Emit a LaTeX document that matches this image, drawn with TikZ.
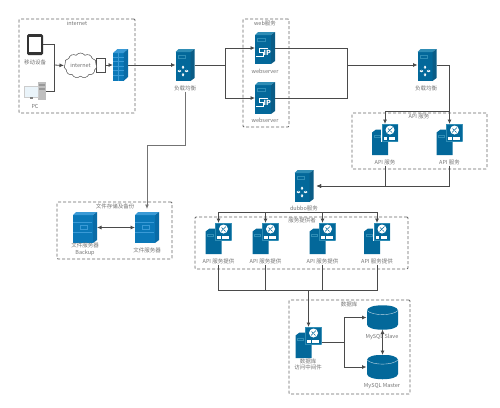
\documentclass[tikz,border=0pt]{standalone}
\usepackage{fontspec}
\setmainfont{Noto Sans CJK SC}
\usepackage{xcolor}
\usetikzlibrary{positioning,arrows.meta,shapes.symbols}
\definecolor{srvfront}{HTML}{03689A}
\definecolor{srvtop}{HTML}{2F8DB5}
\definecolor{srvside}{HTML}{0A5C86}
\definecolor{brightfront}{HTML}{0B78B8}
\definecolor{brighttop}{HTML}{3A9AD6}
\definecolor{brightside}{HTML}{0A6BA6}
\definecolor{wirecol}{HTML}{4A4A4A}
\definecolor{screencol}{HTML}{EAF4FA}
% server drawn around the centre of a node: half width, half height, three colours
\newcommand{\serverbody}[5]{%
  \fill[#3] (-#1,-#2+3) rectangle (#1-4,#2);
  \fill[#4] (-#1,-#2+3) -- (-#1+3,-#2) -- (#1,-#2) -- (#1-4,-#2+3) -- cycle;
  \fill[#5] (#1-4,-#2+3) -- (#1,-#2) -- (#1,#2-3) -- (#1-4,#2) -- cycle;
}
\tikzset{
  pathorigin/.style={shift={(path picture bounding box.center)}},
  iconnode/.style={inner sep=0pt,outer sep=0pt},
  lbserver/.style={iconnode,minimum width=19,minimum height=32,path picture={
    \begin{scope}[pathorigin]
      \serverbody{9.5}{16}{srvfront}{srvtop}{srvside}
      \draw[srvtop,line width=0.4pt] (-7,-10) rectangle (0,-7);
      \draw[white,line width=0.8pt,{Stealth[length=2pt,width=2.4pt]}-{Stealth[length=2pt,width=2.4pt]}] (-7.5,6) -- (-3.6,6);
      \draw[white,line width=0.8pt,{Stealth[length=2pt,width=2.4pt]}-{Stealth[length=2pt,width=2.4pt]}] (-0.4,6) -- (3.5,6);
      \draw[white,line width=0.8pt,{Stealth[length=2pt,width=2.4pt]}-{Stealth[length=2pt,width=2.4pt]}] (-2,0.5) -- (-2,4);
      \draw[white,line width=0.8pt,{Stealth[length=2pt,width=2.4pt]}-{Stealth[length=2pt,width=2.4pt]}] (-2,8) -- (-2,11.5);
    \end{scope}}},
  webserver/.style={iconnode,minimum width=20,minimum height=32,path picture={
    \begin{scope}[pathorigin]
      \serverbody{10}{16}{srvfront}{srvtop}{srvside}
      \draw[srvtop,line width=0.4pt] (-7.5,-10) rectangle (0,-7);
      \draw[white,line width=0.6pt] (3,0.5) -- (-6,0.5) -- (-6,4) -- (-1.5,4) -- (-1.5,8.5) -- (-9,8.5);
      \node[white,font=\fontsize{7}{7}\selectfont\bfseries,inner sep=0pt] at (2.2,5) {IP};
    \end{scope}}},
  apiserver/.style={iconnode,minimum width=26,minimum height=31,path picture={
    \begin{scope}[pathorigin]
      \fill[srvfront] (-13,-7) -- (-9,-10) -- (3,-10) -- (3,15.5) -- (-13,15.5) -- cycle;
      \draw[srvtop,line width=0.4pt] (-11,-4) rectangle (-5,-2);
      \fill[white] (-3.6,-16) rectangle (13,2);
      \fill[srvfront] (-3,-15.5) rectangle (13,1.5);
      \draw[srvtop,line width=0.5pt] (-3,-15.5) rectangle (13,1.5);
      \fill[white] (5,-9.5) circle (4.5);
      \draw[srvfront,line width=0.6pt] (2.5,-7) -- (7.5,-12) (3,-11) -- (5,-9) (5.5,-8.5) -- (7,-7);
      \fill[white] (-1.5,-3) rectangle (10,0.5);
      \fill[srvfront] (2,-3) rectangle (3.5,0.5);
    \end{scope}}},
  fileserver/.style={iconnode,minimum width=24,minimum height=31,path picture={
    \begin{scope}[pathorigin]
      \serverbody{12}{15.5}{brightfront}{brighttop}{brightside}
      \draw[brighttop,line width=0.4pt] (-12,-5) -- (7,-5) (-12,5) -- (7,5);
      \draw[brighttop,line width=0.5pt] (-5,-2) rectangle (2,2);
    \end{scope}}},
  firewall/.style={iconnode,minimum width=15,minimum height=32,path picture={
    \begin{scope}[pathorigin]
      \fill[brightfront] (-7.5,-12) -- (3,-12) -- (3,16) -- (-7.5,16) -- cycle;
      \fill[brighttop] (-7.5,-12) -- (-3,-16) -- (7.5,-16) -- (3,-12) -- cycle;
      \fill[brightside] (3,-12) -- (7.5,-16) -- (7.5,12) -- (3,16) -- cycle;
      \foreach \yy in {-8,-3.5,1,5.5,10}
        \draw[brighttop,line width=0.35pt] (-7.5,\yy) -- (3,\yy);
      \draw[brighttop,line width=0.35pt] (-2,-12) -- (-2,16);
    \end{scope}}},
  tabletdev/.style={iconnode,minimum width=16,minimum height=21,path picture={
    \begin{scope}[pathorigin]
      \fill[black!80,rounded corners=1.5pt] (-8,-10.5) rectangle (8,10.5);
      \fill[white] (-6.3,-8) rectangle (6.3,7.5);
    \end{scope}}},
  pcdev/.style={iconnode,minimum width=22,minimum height=18,path picture={
    \begin{scope}[pathorigin]
      \fill[black!25] (3,-9) rectangle (11,9);
      \fill[black!40] (4,-7) rectangle (10,-5.5);
      \fill[black!40] (4,-3) rectangle (10,-1.5);
      \draw[black!20,line width=0.5pt,fill=screencol] (-11,-4.5) rectangle (3,6);
      \fill[black!50] (-5.5,6) rectangle (-2.5,8);
    \end{scope}}},
  dbdisk/.style={iconnode,minimum width=32,minimum height=24,path picture={
    \begin{scope}[pathorigin]
      \fill[srvfront] (-15.5,-7) .. controls (-15.5,-14) and (15.5,-14) .. (15.5,-7)
        -- (15.5,7) .. controls (15.5,14) and (-15.5,14) .. (-15.5,7) -- cycle;
      \draw[white!75!srvfront,line width=0.4pt] (-15.5,-7) .. controls (-10,-1.5) and (10,-1.5) .. (15.5,-7);
    \end{scope}}},
  groupbox/.style={draw=black!60,dash pattern=on 3pt off 2pt,line width=0.8pt,rounded corners=1pt,inner sep=0pt},
  textlabel/.style={text=black!55,font=\fontsize{5.5}{6.5}\selectfont,align=center,inner sep=1pt},
  wire/.style={draw=wirecol,line width=0.8pt},
  flow/.style={wire,-{Latex[length=4.5pt,width=4pt]}},
  bothflow/.style={wire,{Latex[length=4.5pt,width=4pt]}-{Latex[length=4.5pt,width=4pt]}}
}
\begin{document}
\begin{tikzpicture}[x=1pt,y=-1pt]
\useasboundingbox (0,0) rectangle (500,407);

% groups
\node[groupbox,minimum width=116,minimum height=94]  (internetgroup) at (77,66) {};
\node[groupbox,minimum width=46,minimum height=108]  (webgroup) at (266,73) {};
\node[groupbox,minimum width=135,minimum height=56]  (apigroup) at (419.5,141) {};
\node[groupbox,minimum width=115,minimum height=57]  (filegroup) at (114.5,230.5) {};
\node[groupbox,minimum width=213,minimum height=52]  (providergroup) at (301.5,243) {};
\node[groupbox,minimum width=121,minimum height=94]  (dbgroup) at (349.5,347) {};

\node[textlabel] (internettitle) at (77,23) {internet};
\node[textlabel] (webtitle) at (265,23) {web服务};
\node[textlabel] (apititle) at (419,116) {API 服务};
\node[textlabel] (filetitle) at (115,206) {文件存储及备份};
\node[textlabel] (providertitle) at (302,220) {服务提供者};
\node[textlabel] (dbtitle) at (349,304) {数据库};

% devices
\node[tabletdev] (tablet) at (35,44.5) {};
\node[pcdev]     (pc) at (35,91) {};
\node[textlabel] (tabletlabel) at (35,62) {移动设备};
\node[textlabel] (pclabel) at (35,106) {PC};

\node[iconnode,draw=black!70,line width=0.5pt,fill=white,minimum width=9,minimum height=14] (cloudport) at (101,65) {};
\node[cloud,cloud puffs=11,cloud puff arc=110,aspect=1.5,draw=black!70,fill=white,line width=0.5pt,
  inner sep=0pt,minimum width=33,minimum height=25,text=black!55,font=\fontsize{5.5}{6.5}\selectfont] (cloudnet) at (80.5,65.5) {internet};
\node[firewall] (wall) at (120.5,65) {};

% servers
\node[lbserver]  (lbfront) at (185,65) {};
\node[textlabel] (lbfrontlabel) at (185,88) {负载均衡};
\node[webserver] (weba) at (265,48) {};
\node[textlabel] (webalabel) at (265,71) {webserver};
\node[webserver] (webb) at (265,98) {};
\node[textlabel] (webblabel) at (265,120) {webserver};
\node[lbserver]  (lbback) at (427,65) {};
\node[textlabel] (lbbacklabel) at (426,88) {负载均衡};

\node[apiserver] (apia) at (385,139.5) {};
\node[textlabel] (apialabel) at (385,162) {API 服务};
\node[apiserver] (apib) at (449.5,139.5) {};
\node[textlabel] (apiblabel) at (449.5,162) {API 服务};

\node[lbserver]  (dubbo) at (304,186) {};
\node[textlabel] (dubbolabel) at (304,208) {dubbo服务};

\foreach \pname/\px in {a/218.5,b/265.5,c/322.5,d/377}{
  \node[apiserver] (prov\pname) at (\px,238.5) {};
  \node[textlabel] (prov\pname label) at (\px,261) {API 服务提供};
}

\node[fileserver] (filebak) at (85,227.5) {};
\node[textlabel]  (filebaklabel) at (85,249.5) {文件服务器\\Backup};
\node[fileserver] (filemain) at (147,227.5) {};
\node[textlabel]  (filemainlabel) at (147,250) {文件服务器};

\node[apiserver] (dbmid) at (308.5,342.5) {};
\node[textlabel] (dbmidlabel) at (308,364.5) {数据库\\访问中间件};
\node[dbdisk]    (slave) at (382.5,317.5) {};
\node[dbdisk]    (master) at (382.5,367) {};

% junctions
\coordinate (clientjoin) at (54,65);
\coordinate (lbsplit) at (225,65);
\coordinate (webjoin) at (347,65);
\coordinate (apisplit) at (449.5,111);
\coordinate (dubbojoin) at (304,212);
\coordinate (provjoin) at (308.5,290);
\coordinate (dbjoin) at (344,342.5);
\coordinate (filedrop) at (147,145);

% connectors
\draw[wire] (tablet.east) -| (clientjoin);
\draw[wire] (pc.east) -| (clientjoin);
\draw[flow] (clientjoin) -- (cloudnet.west);
\draw[flow] (cloudport.east) -- (wall.west);
\draw[flow] (wall.east) -- (lbfront.west);

\draw[wire] (lbfront.east) -- (lbsplit);
\draw[flow] (lbsplit) |- (weba.west);
\draw[flow] (lbsplit) |- (webb.west);
\draw[wire] (weba.east) -| (webjoin);
\draw[wire] (webb.east) -| (webjoin);
\draw[flow] (webjoin) -- (lbback.west);

\draw[flow] (lbback.east) -| (apib.north);
\draw[flow] (apisplit) -| (apia.north);
\draw[flow,shorten >=3pt] (apialabel.south) |- (dubbo.east);
\draw[flow,shorten >=3pt] (apiblabel.south) |- (dubbo.east);

\draw[wire] (dubbolabel.south) -- (dubbojoin);
\foreach \pname in {a,b,c,d}{
  \draw[flow] (dubbojoin) -| (prov\pname.north);
  \draw[wire] (prov\pname label.south) |- (provjoin);
}
\draw[flow] (provjoin) -- (dbmid.north);

\draw[wire] (dbmid.east) -- (dbjoin);
\draw[flow] (dbjoin) |- (slave.west);
\draw[flow] (dbjoin) |- (master.west);
\draw[bothflow] (slave.south) -- (master.north);

\draw[flow,draw=black!55,line width=1pt,shorten >=3pt] (lbfrontlabel.south) |- (filedrop) -- (filemain.north);
\draw[bothflow] (filebak.east) -- (filemain.west);

\node[textlabel] (slavelabel) at (382,337) {MySQL Slave};
\node[textlabel] (masterlabel) at (382,386) {MySQL Master};
\end{tikzpicture}
\end{document}
